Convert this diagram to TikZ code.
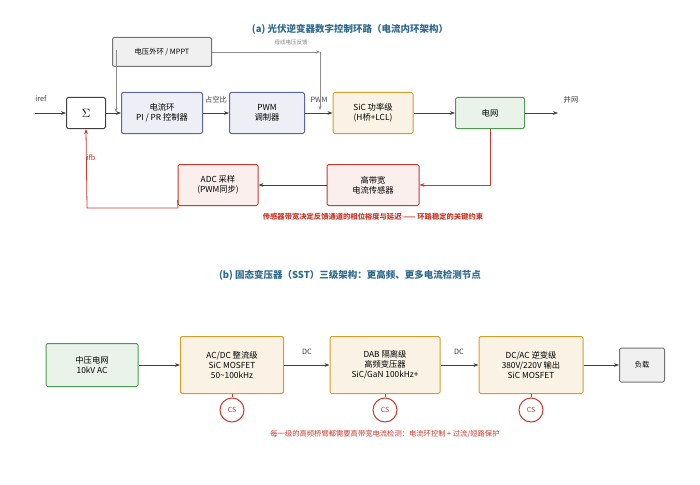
\documentclass[tikz,border=0pt]{standalone}
\usepackage{fontspec}
\setmainfont{Noto Sans CJK SC}
\usetikzlibrary{arrows.meta}
\definecolor{tblue}{HTML}{2E6A8E}
\definecolor{rd}{HTML}{C8392B}
\definecolor{og}{HTML}{D29E2A}
\definecolor{gn}{HTML}{4C9A4F}
\definecolor{bl}{HTML}{5A64A8}
\begin{document}
\begin{tikzpicture}[x=1pt,y=-1pt,
 box/.style={draw,rounded corners=1.5pt,line width=1pt,align=center,font=\fontsize{8.3}{10}\selectfont,inner sep=0pt},
 blue/.style={box,draw=bl,fill=bl!10},
 gray/.style={box,draw=black!55,fill=black!6},
 orange/.style={box,draw=og,fill=og!12},
 green/.style={box,draw=gn,fill=gn!12},
 red/.style={box,draw=rd,fill=rd!8},
 arr/.style={-{Stealth[length=5pt]},line width=1pt,draw=black!75},
 garr/.style={-{Stealth[length=4pt]},line width=0.6pt,draw=black!45},
 rarr/.style={-{Stealth[length=5pt]},line width=0.8pt,draw=rd},
 lbl/.style={font=\fontsize{7.3}{8}\selectfont,text=black!75},
 ttl/.style={font=\fontsize{9.5}{10}\selectfont\bfseries,text=tblue}]
\useasboundingbox (0,0) rectangle (700,484);
\node[ttl] (ta) at (350,29) {(a) 光伏逆变器数字控制环路（电流内环架构）};
\node[gray,minimum width=99pt,minimum height=29pt] (v) at (162,52) {\fontsize{7.3}{8}\selectfont 电压外环 / MPPT};
\node[box,fill=white,draw=black!75,minimum width=39pt,minimum height=31pt] (s) at (86,113) {\large$\Sigma$};
\node[blue,minimum width=81pt,minimum height=41pt] (pi) at (162,113) {电流环\\PI / PR 控制器};
\node[blue,minimum width=75pt,minimum height=41pt] (pwm) at (267,113) {PWM\\调制器};
\node[orange,minimum width=80pt,minimum height=41pt] (sic) at (373,113) {SiC 功率级\\(H桥+LCL)};
\node[green,minimum width=69pt,minimum height=31pt] (g) at (490,113) {电网};
\node[red,minimum width=80pt,minimum height=41pt] (adc) at (218,185) {ADC 采样\\(PWM同步)};
\node[red,minimum width=92pt,minimum height=41pt] (hs) at (373,185) {高带宽\\电流传感器};
\coordinate (in) at (35,113);
\coordinate (out) at (558,113);
\draw[arr] (in) -- (s);
\node[lbl] (iref) at (41,99) {iref};
\draw[arr] (s) -- (pi);
\draw[arr] (pi) -- (pwm);
\draw[arr] (pwm) -- (sic);
\draw[arr] (sic) -- (g);
\draw[arr] (g) -- (out);
\node[lbl] (bw) at (571,100) {并网};
\node[lbl] (dz) at (216,100) {占空比};
\node[lbl] (pl) at (319,100) {PWM};
\coordinate (vb) at (320,52);
\draw[garr] (v.east) -- (vb);
\node[font=\fontsize{5.5}{6}\selectfont,text=black!50] (mx) at (291,42) {母线电压反馈};
\draw[garr] (vb) -- (320,110);
\draw[garr] (116,50) -- (116,112);
\draw[rarr] (g.south) |- (hs.east);
\draw[arr] (hs) -- (adc);
\draw[rarr] (adc.west|-0,200) -- (178,208) -- (87,208) -- (s.south);
\node[font=\fontsize{7.3}{8}\selectfont,text=rd] (ifb) at (91,158) {ifb};
\node[font=\fontsize{7.3}{8}\selectfont\bfseries,text=rd] (na) at (373,217) {传感器带宽决定反馈通道的相位裕度与延迟 —— 环路稳定的关键约束};
\node[ttl] (tb) at (350,275) {(b) 固态变压器（SST）三级架构：更高频、更多电流检测节点};
\node[green,minimum width=92pt,minimum height=43pt] (m) at (92,365) {中压电网\\10kV AC};
\node[orange,minimum width=103pt,minimum height=57pt] (a1) at (232,365) {AC/DC 整流级\\SiC MOSFET\\50\textasciitilde100kHz};
\node[orange,minimum width=110pt,minimum height=57pt] (a2) at (385,365) {DAB 隔离级\\高频变压器\\SiC/GaN 100kHz+};
\node[orange,minimum width=104pt,minimum height=57pt] (a3) at (531,365) {DC/AC 逆变级\\380V/220V 输出\\SiC MOSFET};
\node[gray,minimum width=45pt,minimum height=34pt] (ld) at (642,365) {\fontsize{7.3}{8}\selectfont 负载};
\draw[arr] (m) -- (a1);
\draw[arr] (a1) -- (a2);
\draw[arr] (a2) -- (a3);
\draw[arr] (a3) -- (ld);
\node[lbl] (dc1) at (307,352) {DC};
\node[lbl] (dc2) at (459,352) {DC};
\foreach \b/\x in {a1/232,a2/385,a3/531}{
 \node[circle,draw=rd,line width=1pt,fill=white,minimum size=24pt,inner sep=0pt,font=\fontsize{7}{8}\selectfont,text=rd] (cs\b) at (\x,410) {CS};
 \draw[rd,dashed,line width=0.7pt] (\b.south) -- (cs\b.north);
}
\node[font=\fontsize{7.3}{8}\selectfont,text=rd] (nb) at (385,434) {每一级的高频桥臂都需要高带宽电流检测：电流环控制 + 过流/短路保护};
\end{tikzpicture}
\end{document}
